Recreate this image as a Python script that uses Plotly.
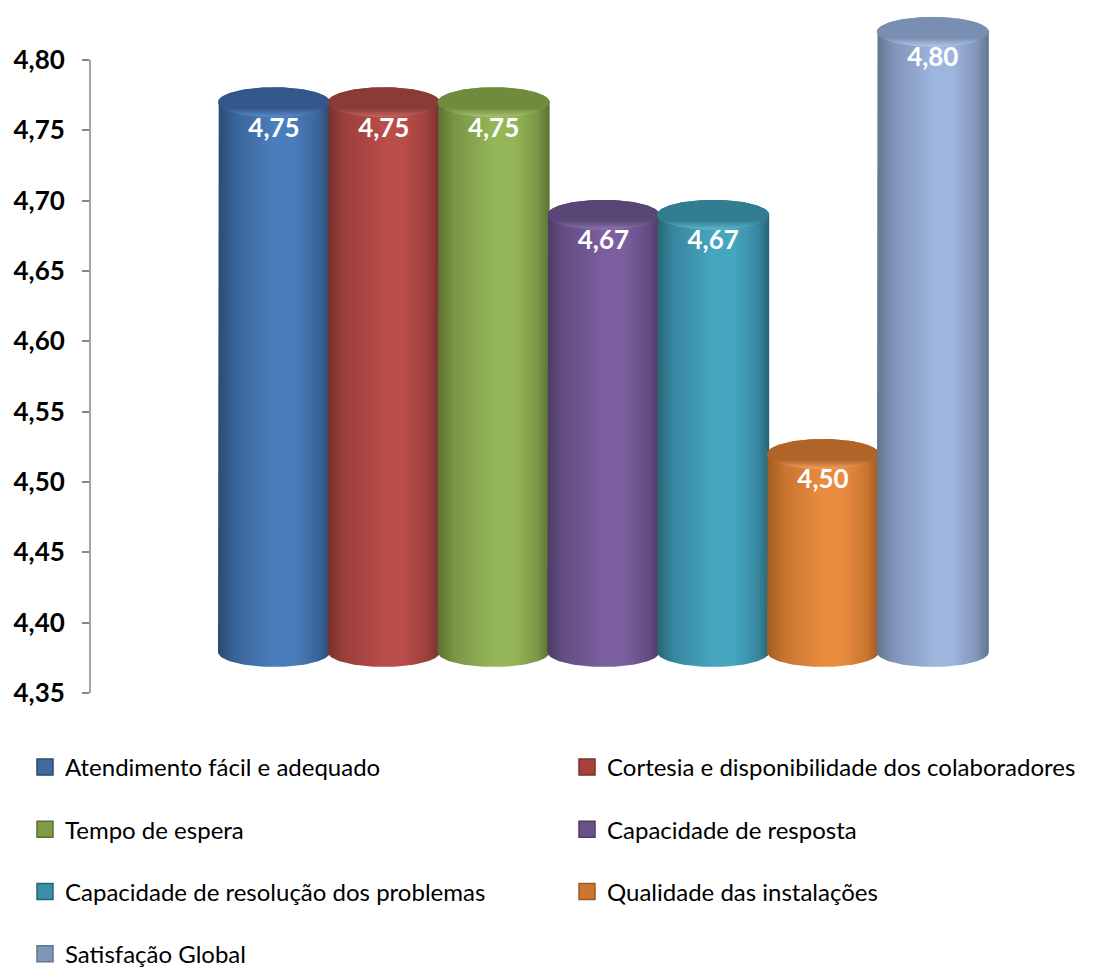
import numpy as np
import plotly.graph_objects as go

# ---- data ----
categories = [
    "Atendimento fácil e adequado",
    "Cortesia e disponibilidade dos colaboradores",
    "Tempo de espera",
    "Capacidade de resposta",
    "Capacidade de resolução dos problemas",
    "Qualidade das instalações",
    "Satisfação Global",
]
values = [4.75, 4.75, 4.75, 4.67, 4.67, 4.50, 4.80]
tick_values = [4.35, 4.40, 4.45, 4.50, 4.55, 4.60, 4.65, 4.70, 4.75, 4.80]
tick_labels = ["4,35", "4,40", "4,45", "4,50", "4,55", "4,60", "4,65", "4,70", "4,75", "4,80"]
legend_column = ["legend", "legend2", "legend", "legend2", "legend", "legend2", "legend"]

# ---- styles ----
side_light = ["#4a7dbb", "#b94d4a", "#95b658", "#7c5f9f", "#46a6bf", "#ea8c3f", "#9db6de"]
side_dark = ["#2b4a70", "#78302e", "#5b7131", "#4d3b65", "#286574", "#a05a20", "#62758f"]
side_mid = ["#3a6498", "#9a3f3c", "#7a9545", "#644d83", "#3787a0", "#c77430", "#8093b6"]
top_dark = ["#33578a", "#8a3a37", "#6f8c3e", "#5a4577", "#327d91", "#b06428", "#788eb2"]
top_rim = ["#5b8dc9", "#c96461", "#a7c56f", "#8f75b1", "#60b9d0", "#f3a15d", "#b4c9e7"]
legend_color = ["#3f6a9c", "#a5413e", "#7f9a48", "#6a5287", "#3d8ea4", "#cd7633", "#8196b8"]

Y_MIN, Y_MAX = 4.35, 4.80
PX_PER_UNIT_Y = 1407.0
PX_PER_CAT = 109.8
TOP_SHIFT = 28 / PX_PER_UNIT_Y      # 3D depth offset of the top face
BASE_LEVEL = Y_MIN + 41 / PX_PER_UNIT_Y
HALF_W = 56 / PX_PER_CAT
RY = 15 / PX_PER_UNIT_Y

fig = go.Figure()

for i, (cat, v) in enumerate(zip(categories, values)):
    cx = i
    top_c = v + TOP_SHIFT
    t_back = np.linspace(np.pi, 0, 60)
    t_front = np.linspace(0, -np.pi, 60)
    xs = np.concatenate([[cx - HALF_W, cx - HALF_W], cx + HALF_W * np.cos(t_back),
                         [cx + HALF_W], cx + HALF_W * np.cos(t_front)])
    ys = np.concatenate([[BASE_LEVEL, top_c], top_c + RY * np.sin(t_back),
                         [BASE_LEVEL], BASE_LEVEL + RY * np.sin(t_front)])
    fig.add_trace(go.Scatter(
        x=xs, y=ys, mode="lines", fill="toself",
        line=dict(width=0, color="rgba(0,0,0,0)"),
        fillgradient=dict(type="horizontal", colorscale=[
            [0.0, side_dark[i]], [0.15, side_mid[i]], [0.5, side_light[i]],
            [0.68, side_light[i]], [0.9, side_mid[i]], [1.0, side_dark[i]]]),
        showlegend=False, hoverinfo="skip"))
    t = np.linspace(0, 2 * np.pi, 120)
    fig.add_trace(go.Scatter(
        x=cx + HALF_W * np.cos(t), y=top_c + RY * np.sin(t), mode="lines", fill="toself",
        line=dict(width=0, color="rgba(0,0,0,0)"),
        fillgradient=dict(type="vertical", colorscale=[
            [0.0, top_rim[i]], [0.3, top_dark[i]], [1.0, top_dark[i]]]),
        showlegend=False, hoverinfo="skip"))

# data labels
fig.add_trace(go.Scatter(
    x=list(range(len(values))), y=values, mode="text",
    text=[f"{v:.2f}".replace(".", ",") for v in values],
    textfont=dict(family="Lato", size=26, color="white", weight=700),
    showlegend=False, hoverinfo="skip"))

# legend entries
for i, cat in enumerate(categories):
    fig.add_trace(go.Scatter(
        x=[None], y=[None], mode="markers", name=cat, legendgroup=cat,
        legend=legend_column[i],
        marker=dict(symbol="square", size=18, color=legend_color[i],
                    line=dict(color=side_dark[i], width=1.5))))

# axis line
fig.add_shape(type="line", xref="paper", yref="y", x0=0, x1=0, y0=Y_MIN, y1=Y_MAX,
              line=dict(color="#868686", width=1.5))

L, R, T, B = 90, 40, 8, 276
W, H = 1099, 969
plot_w = W - L - R
plot_h = H - T - B
x0 = -(274 - L) / PX_PER_CAT
leg_y = (693 - 745) / plot_h
fig.update_layout(
    width=W, height=H,
    margin=dict(l=L, r=R, t=T, b=B, autoexpand=False),
    paper_bgcolor="white", plot_bgcolor="white",
    font=dict(family="Lato", color="black"),
    xaxis=dict(range=[x0, x0 + plot_w / PX_PER_CAT], visible=False),
    yaxis=dict(range=[Y_MIN, Y_MIN + plot_h / PX_PER_UNIT_Y], tickvals=tick_values,
               ticktext=tick_labels, ticks="outside", ticklen=7, tickwidth=1.5,
               tickcolor="#868686", showgrid=False, zeroline=False, showline=False,
               ticklabelstandoff=12,
               tickfont=dict(family="Lato", size=26, color="black", weight=700)),
    legend=dict(x=(25 - L) / plot_w, xanchor="left", y=leg_y, yanchor="top",
                orientation="v", tracegroupgap=28, font=dict(size=24, color="black"),
                bgcolor="rgba(0,0,0,0)"),
    legend2=dict(x=(567 - L) / plot_w, xanchor="left", y=leg_y, yanchor="top",
                 orientation="v", tracegroupgap=28, font=dict(size=24, color="black"),
                 bgcolor="rgba(0,0,0,0)"),
)

fig.write_html("out.html")
